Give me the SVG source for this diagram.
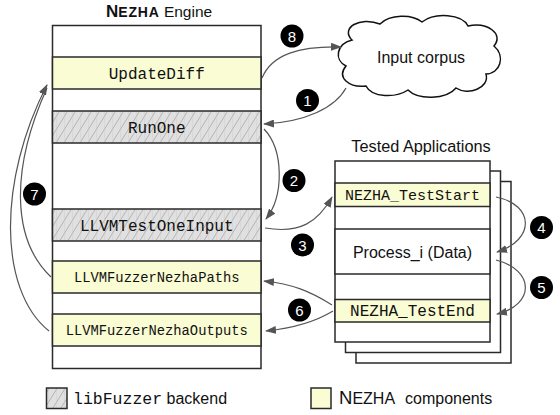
<svg xmlns="http://www.w3.org/2000/svg" width="560" height="415" viewBox="0 0 560 415">
<defs>
<pattern id="hatch" width="8" height="13" patternUnits="userSpaceOnUse">
<rect width="8" height="13" fill="#e0e0e0"/>
<path d="M0,13 L8,0 M-4,6.5 L0,0 M8,13 L12,6.5" stroke="#a8a8a8" stroke-width="0.8"/>
<path d="M0,0 L0,13" stroke="#c4c4c4" stroke-width="0.6"/>
</pattern>
<marker id="arr" markerWidth="11" markerHeight="8" refX="10" refY="4" orient="auto" markerUnits="userSpaceOnUse">
<path d="M0,0 L11,4 L0,8 z" fill="#555"/>
</marker>
<style>
.box{fill:#fff;stroke:#2a2a2a;stroke-width:1.5}
.yel{fill:#fafcd4;stroke:#2a2a2a;stroke-width:1.5}
.hat{fill:url(#hatch);stroke:#2a2a2a;stroke-width:1.5}
.mono{font-family:"Liberation Mono","Courier New",monospace;fill:#111;text-anchor:middle}
.sans{font-family:"Liberation Sans",Arial,sans-serif;fill:#111}
.con{fill:none;stroke:#555;stroke-width:1.2}
.arw{marker-end:url(#arr)}
.num circle{fill:#000}
.num text{font-family:"Liberation Sans",Arial,sans-serif;font-size:15px;fill:#fff;text-anchor:middle}
</style>
</defs>
<rect width="560" height="415" fill="#fff"/>

<g id="title">
<text class="sans" x="106" y="17" font-weight="bold"><tspan font-size="17">N</tspan><tspan font-size="14" letter-spacing="0.8">EZHA</tspan><tspan font-weight="normal" font-size="15.5"> Engine</tspan></text>
</g>

<g id="engine">
<rect class="box" x="52.5" y="25.5" width="208.5" height="343"/>
</g>
<g id="UpdateDiff">
<rect class="yel" x="52.5" y="57" width="208.5" height="32"/>
<text class="mono" x="156.75" y="78.5" font-size="16">UpdateDiff</text>
</g>
<g id="RunOne">
<rect class="hat" x="52.5" y="111" width="208.5" height="32"/>
<text class="mono" x="156.75" y="132.5" font-size="16">RunOne</text>
</g>
<g id="LLVMTestOneInput">
<rect class="hat" x="52.5" y="209" width="208.5" height="32"/>
<text class="mono" x="156.75" y="230.5" font-size="16">LLVMTestOneInput</text>
</g>
<g id="LLVMFuzzerNezhaPaths">
<rect class="yel" x="52.5" y="261" width="208.5" height="32"/>
<text class="mono" x="156.75" y="281.5" font-size="13.8">LLVMFuzzerNezhaPaths</text>
</g>
<g id="LLVMFuzzerNezhaOutputs">
<rect class="yel" x="52.5" y="314" width="208.5" height="32"/>
<text class="mono" x="156.75" y="334.5" font-size="13.8">LLVMFuzzerNezhaOutputs</text>
</g>

<g id="corpus">
<path d="M352,40 C340,28 360,16 380,24 C390,14 412,14 422,22 C435,12 462,14 468,26 C488,22 504,34 494,46 C506,56 500,74 486,74 C490,88 468,96 456,88 C446,100 418,100 408,90 C396,98 372,98 366,86 C350,88 336,78 346,66 C334,60 336,44 352,40 Z" fill="#fff" stroke="#111" stroke-width="1.5"/>
<text class="sans" x="421" y="63" font-size="16" text-anchor="middle">Input corpus</text>
</g>

<g id="tested">
<text class="sans" x="421" y="152" font-size="16.3" text-anchor="middle">Tested Applications</text>
<rect class="box" x="356" y="181.5" width="155" height="181.5"/>
<rect class="box" x="345.5" y="171" width="155" height="181.5"/>
<rect class="box" x="335" y="161" width="155" height="181"/>
</g>
<g id="NEZHA_TestStart">
<rect class="yel" x="335" y="183" width="155" height="23.5"/>
<text class="mono" x="412.5" y="200" font-size="15">NEZHA_TestStart</text>
</g>
<g id="Process_i">
<rect class="box" x="335" y="229" width="155" height="45"/>
<text class="sans" x="412.5" y="257.5" font-size="16" text-anchor="middle">Process_i (Data)</text>
</g>
<g id="NEZHA_TestEnd">
<rect class="yel" x="335" y="299.5" width="155" height="22.5"/>
<text class="mono" x="412.5" y="316" font-size="16">NEZHA_TestEnd</text>
</g>

<g id="connectors">
<path class="con arw" d="M262,78 C272,54 300,46 341,47"/>
<path class="con arw" d="M346,88 C335,108 305,122 264,124"/>
<path class="con arw" d="M264,129 C284,150 284,196 266,219"/>
<path class="con arw" d="M265,228 C300,234 318,222 332,197"/>
<path class="con arw" d="M496,197 C535,205 535,240 497,252"/>
<path class="con arw" d="M496,260 C535,270 535,305 497,314"/>
<path class="con arw" d="M332,305 C310,291 292,284 264,281"/>
<path class="con arw" d="M333,311 C315,322 295,328 266,331"/>
<path class="con" d="M51,277 C12,240 10,170 47,88"/>
<path class="con arw" d="M49,331 C-2,290 -2,180 47,85"/>
</g>

<g id="labels" class="num">
<circle cx="292" cy="36" r="11.5"/><text x="292" y="41.5">8</text>
<circle cx="307.5" cy="100.5" r="11.5"/><text x="307.5" y="106">1</text>
<circle cx="294" cy="180.5" r="11.5"/><text x="294" y="186">2</text>
<circle cx="302.5" cy="245" r="11.5"/><text x="302.5" y="250.5">3</text>
<circle cx="541.5" cy="227.5" r="11.5"/><text x="541.5" y="233">4</text>
<circle cx="541.5" cy="287.5" r="11.5"/><text x="541.5" y="293">5</text>
<circle cx="299.5" cy="310" r="11.5"/><text x="299.5" y="315.5">6</text>
<circle cx="34.5" cy="194" r="11.5"/><text x="34.5" y="199.5">7</text>
</g>

<g id="legend">
<rect class="hat" x="46.5" y="388" width="20.5" height="20.5" stroke-width="1.2"/>
<text x="73" y="403.5" font-size="16.5" class="mono" style="text-anchor:start">libFuzzer<tspan class="sans" font-size="16"> backend</tspan></text>
<rect class="yel" x="311" y="388" width="20" height="20.5" stroke-width="1.2"/>
<text class="sans" x="339" y="404"><tspan font-size="18.5">N</tspan><tspan font-size="16">EZHA</tspan><tspan font-size="16" x="405">components</tspan></text>
</g>
</svg>
